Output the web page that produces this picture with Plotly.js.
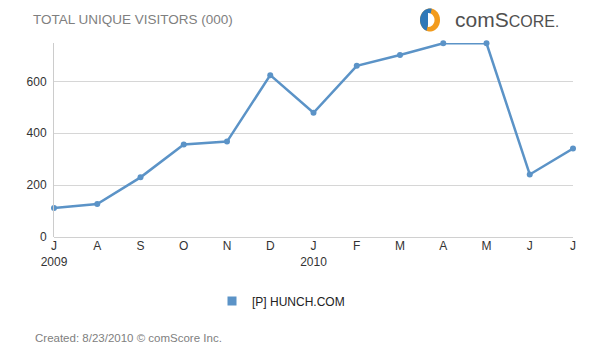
<!DOCTYPE html>
<html>
<head>
<meta charset="utf-8">
<script src="https://cdn.plot.ly/plotly-3.0.1.min.js"></script>
<style>html,body{margin:0;padding:0;background:#fff;}#chart{width:613px;height:351px;}</style>
</head>
<body>
<div id="chart"></div>
<script>
const months = ["J","A","S","O","N","D","J","F","M","A","M","J","J"];
const years = ["2009","","","","","","2010","","","","","",""];
const visitors = [112,127,230,357,368,624,479,660,702,747,747,241,341];
const seriesName = "[P] HUNCH.COM";
const yTicks = [0,200,400,600];

const idx = months.map((m,i)=>i);
const tickText = months.map((m,i)=> years[i] ? m + "<br>" + years[i] : m);

// pixel -> paper helpers (plot area 54..573 x, 43..237 y)
const L=54, R=573, T=43, B=237;
const px = x => (x-L)/(R-L);
const py = y => (B-y)/(B-T);

function ellipsePath(cx, cy, rx, ry, a0, a1, n, close) {
  let d = "";
  for (let i=0;i<=n;i++){
    const a = (a0 + (a1-a0)*i/n) * Math.PI/180;
    const x = cx + rx*Math.cos(a), y = cy - ry*Math.sin(a);
    d += (i===0 ? "M " : " L ") + px(x).toFixed(5) + " " + py(y).toFixed(5);
  }
  return d + (close ? " Z" : "");
}

const lineColor = "#5b93c7";

const traces = [
  {x: idx, y: visitors, type:"scatter", mode:"lines+markers", showlegend:false,
   line:{color:lineColor,width:2.5}, marker:{color:lineColor,size:6}, cliponaxis:false,
   hoverinfo:"y"},
  {x:[null], y:[null], type:"scatter", mode:"markers", name:seriesName,
   marker:{color:lineColor,size:9,symbol:"square"}}
];

const cx=430, cy=20;
const layout = {
  width:613, height:351,
  margin:{l:L, r:613-R, t:T, b:351-B},
  paper_bgcolor:"#fff", plot_bgcolor:"#fff",
  font:{family:"Liberation Sans, Arial, sans-serif", color:"#333", size:12},
  title:{text:"TOTAL UNIQUE VISITORS (000)", x:33/613, xanchor:"left", xref:"container",
         y:1-19/351, yanchor:"middle", yref:"container",
         font:{size:13.5, color:"#7f7f7f", family:"Liberation Sans, Arial, sans-serif"}},
  xaxis:{range:[0,12], tickvals:idx, ticktext:tickText, showgrid:false, zeroline:false,
         showline:false, ticks:"", tickfont:{size:12,color:"#333"}, fixedrange:true, tickangle:0},
  yaxis:{range:[0,748], tickvals:yTicks, showgrid:true, gridcolor:"#d6d6d6", gridwidth:1,
         zeroline:true, zerolinecolor:"#d0d0d0", zerolinewidth:1,
         showline:true, linecolor:"#cccccc", linewidth:1, ticks:"", ticklabelstandoff:4,
         tickfont:{size:12,color:"#333"}, fixedrange:true},
  showlegend:true,
  legend:{orientation:"h", xref:"container", yref:"container", x:212/613, xanchor:"left",
          y:1-301/351, yanchor:"middle", font:{size:12,color:"#222"}, bgcolor:"rgba(0,0,0,0)"},
  annotations:[
    {text:"Created: 8/23/2010 © comScore Inc.", xref:"paper", yref:"paper",
     x:px(33), y:py(338), xanchor:"left", yanchor:"middle", showarrow:false,
     font:{size:11.5,color:"#808080"}},
    {text:"comS<span style='font-size:16px'>CORE</span><span style='font-size:15px'>.</span>",
     xref:"paper", yref:"paper", x:px(453), y:py(20), xanchor:"left", yanchor:"middle",
     showarrow:false, font:{size:21,color:"#505050", family:"Liberation Sans, Arial, sans-serif"}}
  ],
  shapes:[
    {type:"path", xref:"paper", yref:"paper", path:ellipsePath(cx,cy,10,11.5,0,360,60,true),
     fillcolor:"#f29b1d", line:{width:0}},
    {type:"path", xref:"paper", yref:"paper", path:ellipsePath(cx,cy,10,11.5,80,250,40,true),
     fillcolor:"#2f78b8", line:{width:0}},
    {type:"path", xref:"paper", yref:"paper", path:ellipsePath(cx-2,cy,6.5,7,-90,90,30,true),
     fillcolor:"#ffffff", line:{width:0}}
  ]
};

Plotly.newPlot("chart", traces, layout, {displayModeBar:false, staticPlot:true});
</script>
</body>
</html>
